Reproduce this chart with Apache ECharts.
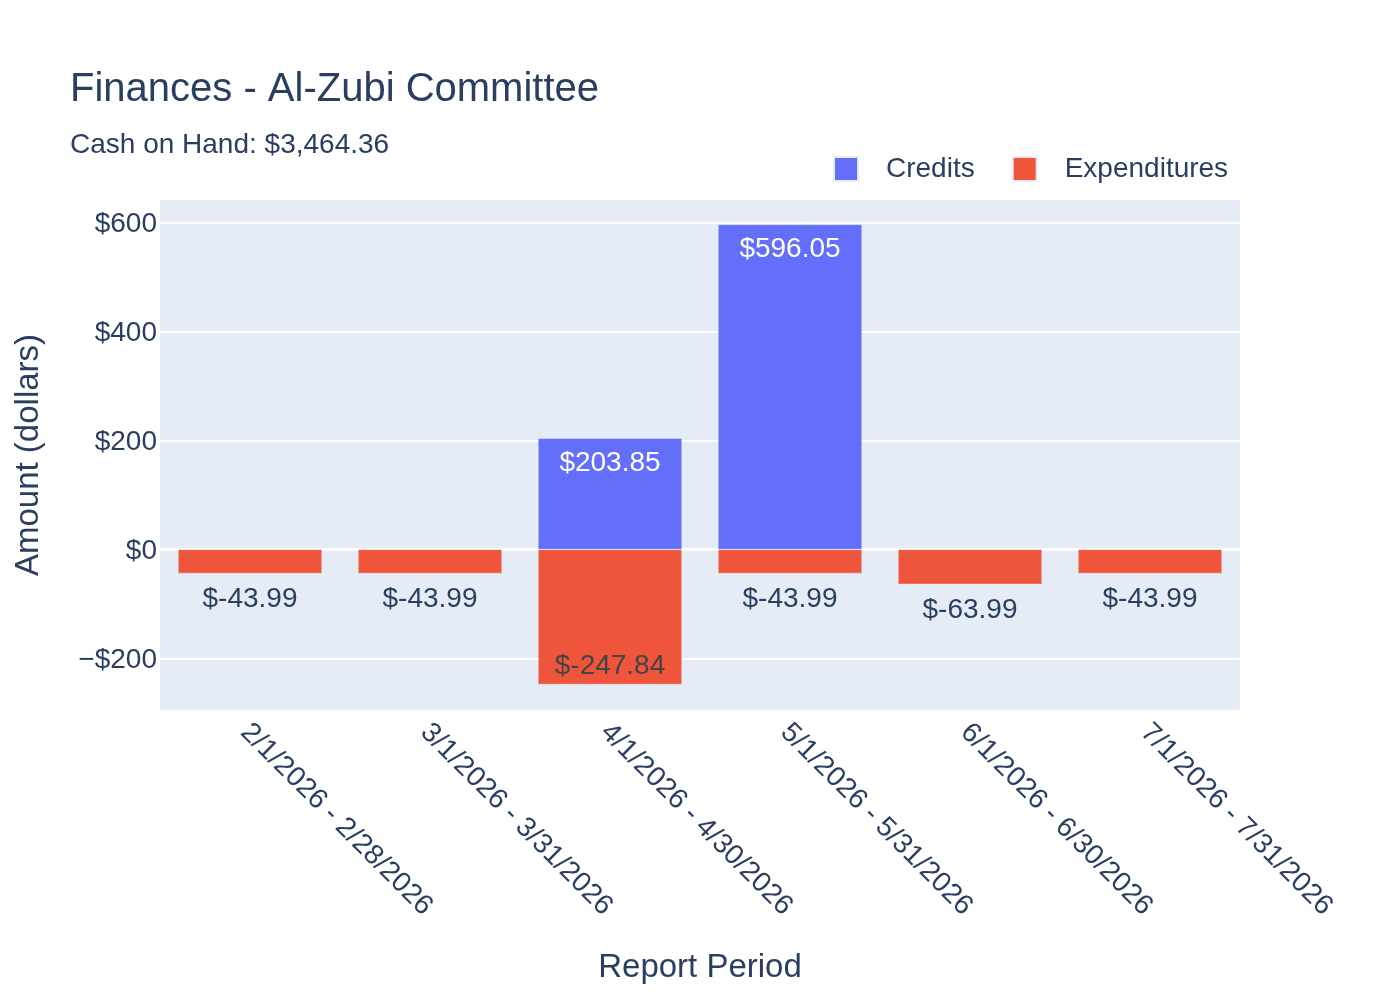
<!DOCTYPE html>
<html>
<head>
<meta charset="UTF-8"/>
<title>Finances - Al-Zubi Committee</title>
<script src="https://cdn.jsdelivr.net/npm/echarts@6/dist/echarts.min.js"></script>
<style>
html, body { margin: 0; padding: 0; background: #fff; }
#chart { width: 1400px; height: 1000px; }
</style>
</head>
<body>
<div id="chart"></div>
<script>
// report periods and amounts
var periods = ['2/1/2026 - 2/28/2026', '3/1/2026 - 3/31/2026', '4/1/2026 - 4/30/2026',
               '5/1/2026 - 5/31/2026', '6/1/2026 - 6/30/2026', '7/1/2026 - 7/31/2026'];
var credits = ['-', '-', 203.85, 596.05, '-', '-'];
var expenditures = [-43.99, -43.99, -247.84, -43.99, -63.99, -43.99];
var yTicks = [-200, 0, 200, 400, 600];

var ink = '#2a3f5f';
var font = '"Liberation Sans", Arial, sans-serif';

function money(v) {
  return '$' + Number(v).toFixed(2);
}

// short bars get the label outside, tall ones inside at the far end
var expData = expenditures.map(function (v) {
  var inside = Math.abs(v) > 100;
  return {
    value: v,
    label: inside
      ? { position: 'insideBottom', distance: 4, color: '#444' }
      : { position: 'bottom', distance: 12, color: ink }
  };
});

var chart = echarts.init(document.getElementById('chart'));
var option = {
  backgroundColor: '#fff',
  textStyle: { fontFamily: font },
  title: [
    { text: 'Finances - Al-Zubi Committee', left: 70, top: 70, padding: 0,
      textStyle: { fontSize: 40, fontWeight: 'normal', color: ink, fontFamily: font } },
    { text: 'Cash on Hand: $3,464.36', left: 70, top: 131, padding: 0,
      textStyle: { fontSize: 28, fontWeight: 'normal', color: ink, fontFamily: font } }
  ],
  legend: {
    data: ['Credits', 'Expenditures'],
    left: 833, top: 155, padding: 0,
    icon: 'rect', itemWidth: 24, itemHeight: 24, itemGap: 37,
    textStyle: { fontSize: 28, color: ink, fontFamily: font, padding: [0, 0, 0, 23] }
  },
  grid: {
    left: 160, right: 160, top: 200, bottom: 290,
    show: true, backgroundColor: '#E5ECF6', borderWidth: 0
  },
  xAxis: [
    {
      type: 'category', data: periods,
      name: 'Report Period', nameLocation: 'middle', nameGap: 241,
      nameTextStyle: { fontSize: 33, color: ink, fontFamily: font },
      axisLine: { show: false, onZero: false }, axisTick: { show: false },
      axisLabel: {
        rotate: -45, margin: 13, interval: 0,
        formatter: function (v) { return '{p|' + v + '}'; },
        rich: { p: { fontSize: 28, color: ink, fontFamily: font, padding: [14, 0, 0, 0] } }
      },
      splitLine: { show: false }
    },
    {
      // zero line
      type: 'category', data: periods, position: 'bottom',
      axisLine: { show: true, onZero: true, lineStyle: { color: '#fff', width: 3 } },
      axisTick: { show: false }, axisLabel: { show: false }, splitLine: { show: false }
    }
  ],
  yAxis: {
    type: 'value', min: -294.5, max: 641,
    name: 'Amount (dollars)', nameLocation: 'middle', nameGap: 115,
    nameTextStyle: { fontSize: 33, color: ink, fontFamily: font },
    axisLine: { show: false },
    axisTick: { show: false, customValues: yTicks },
    axisLabel: {
      customValues: yTicks, margin: 3,
      formatter: function (v) { return '{t|' + (v < 0 ? '\u2212$' + (-v) : '$' + v) + '}'; },
      rich: { t: { fontSize: 28, color: ink, fontFamily: font, padding: [4, 0, 0, 0] } }
    },
    splitLine: { show: true, lineStyle: { color: '#fff', width: 2 } }
  },
  series: [
    {
      name: 'Credits', type: 'bar', stack: 'total', data: credits,
      barCategoryGap: '20%',
      itemStyle: { color: '#636efa', borderColor: '#E5ECF6', borderWidth: 0.5 },
      label: { show: true, position: 'insideTop', distance: 11, color: '#fff',
               fontSize: 28, fontFamily: font,
               formatter: function (p) { return money(p.value); } }
    },
    {
      name: 'Expenditures', type: 'bar', stack: 'total', data: expData,
      barCategoryGap: '20%',
      itemStyle: { color: '#EF553B', borderColor: '#E5ECF6', borderWidth: 0.5 },
      label: { show: true, fontSize: 28, fontFamily: font,
               formatter: function (p) { return money(p.value); } }
    }
  ]
};
chart.setOption(option);
</script>
</body>
</html>
